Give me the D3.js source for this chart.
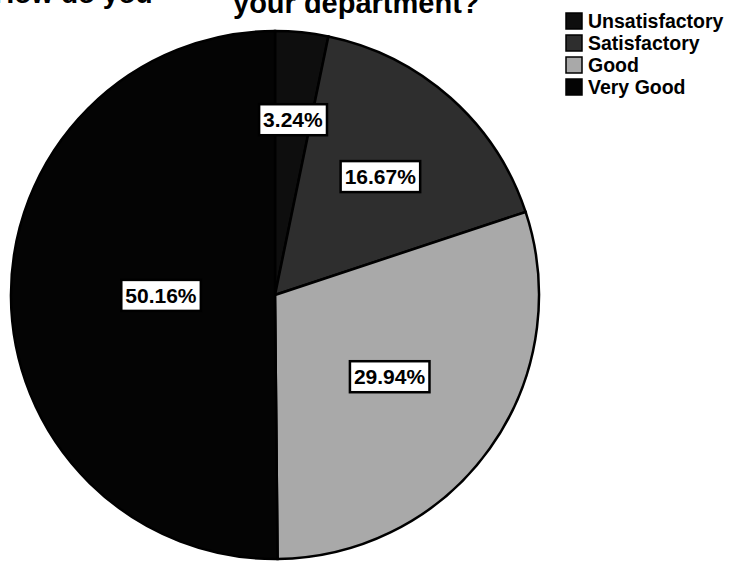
<!DOCTYPE html>
<html>
<head>
<meta charset="utf-8">
<script src="https://cdn.jsdelivr.net/npm/d3@7"></script>
<style>
body { margin: 0; background: #fff; }
svg { display: block; font-family: "Liberation Sans", Arial, sans-serif; }
</style>
</head>
<body>
<svg width="730" height="562"></svg>
<script>
var categories = [ "Unsatisfactory", "Satisfactory", "Good", "Very Good" ];
var percents = [ 3.24, 16.67, 29.94, 50.16 ];
var fills = [ "#0e0e0e", "#2e2e2e", "#a9a9a9", "#040404" ];
var titleLines = [ "How do you", "your department?" ];

var svg = d3.select("svg");
var cx = 275, cy = 295, radius = 264;

var color = d3.scaleOrdinal().domain(categories).range(fills);

var data = categories.map(function(c, i) {
	return { name : c, value : percents[i] };
});

var pie = d3.pie().sort(null).value(function(d) {
	return d.value;
});
var arc = d3.arc().innerRadius(0).outerRadius(radius);
// smaller slices get their label pushed further out
var labelR = d3.scaleLinear().domain([ 0, 100 ]).range([ radius * 0.683, radius * 0.183 ]);

var pieG = svg.append("g").attr("transform",
		"translate(" + cx + "," + cy + ")");

pieG.selectAll("path").data(pie(data)).enter().append("path")
		.attr("d", arc)
		.attr("fill", function(d) {
			return color(d.data.name);
		})
		.attr("stroke", "#000").attr("stroke-width", 2.5);

// value labels in white boxes
var labelG = pieG.selectAll("g.lbl").data(pie(data)).enter().append("g")
		.attr("class", "lbl").attr("transform", function(d) {
			var r = labelR(d.data.value);
			return "translate(" + d3.arc().innerRadius(r).outerRadius(r).centroid(d) + ")";
		});
labelG.append("text").attr("text-anchor", "middle").attr("dy", "0.35em")
		.attr("font-size", 21).attr("font-weight", "bold").attr("fill", "#000")
		.text(function(d) {
			return d.data.value.toFixed(2) + "%";
		});
labelG.each(function() {
	var g = d3.select(this);
	var bb = g.select("text").node().getBBox();
	g.insert("rect", "text").attr("x", bb.x - 4).attr("y", bb.y - 4)
			.attr("width", bb.width + 8).attr("height", bb.height + 8)
			.attr("fill", "#fff").attr("stroke", "#000").attr("stroke-width", 2.5);
});

// title (cut off at the top of the picture)
svg.append("text").attr("x", -6).attr("y", 3).attr("font-size", 28)
		.attr("font-weight", "bold").text(titleLines[0]);
svg.append("text").attr("x", 233).attr("y", 13)
		.attr("font-size", 29).attr("font-weight", "bold").text(titleLines[1]);

// legend
var legend = svg.append("g").selectAll("g").data(categories).enter()
		.append("g").attr("transform", function(d, i) {
			return "translate(566," + (13 + i * 22) + ")";
		});
legend.append("rect").attr("width", 16).attr("height", 16)
		.attr("fill", color).attr("stroke", "#000").attr("stroke-width", 1.5);
legend.append("text").attr("x", 22).attr("y", 8).attr("dy", "0.35em")
		.attr("font-size", 19.5).attr("font-weight", "bold")
		.text(function(d) {
			return d;
		});
</script>
</body>
</html>
